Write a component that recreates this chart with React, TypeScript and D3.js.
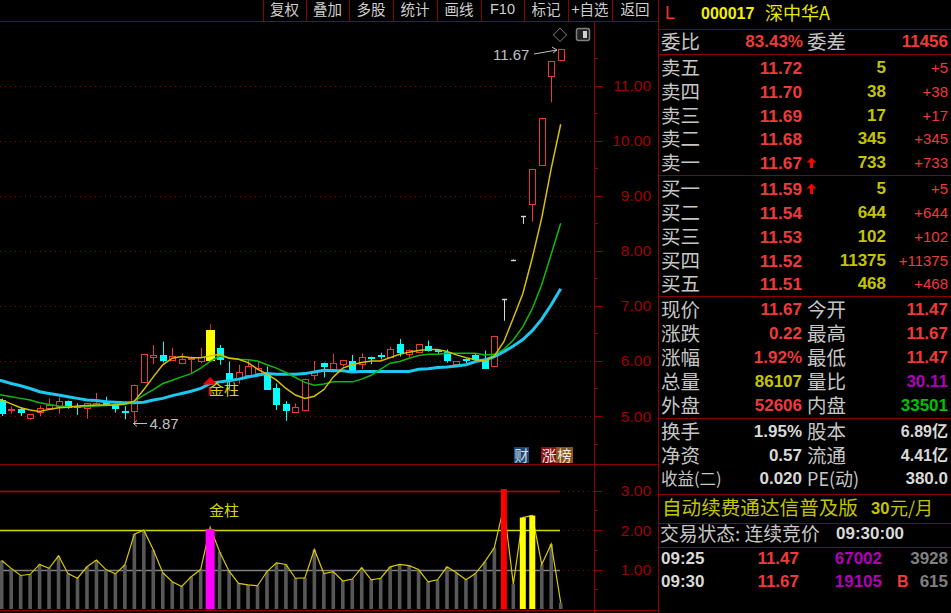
import React from "react";
import * as d3 from "d3";

const buttons = ["复权", "叠加", "多股", "统计", "画线", "F10", "标记", "+自选", "返回"];
const buttonEdges = [263, 306, 349, 393, 437, 481, 524, 568, 612, 658];

const opens = [5.29,5.10,5.13,4.97,5.07,5.15,5.19,5.28,5.18,5.15,5.20,5.23,5.20,5.09,5.09,5.61,6.08,6.11,6.02,5.96,6.03,6.00,6.02,6.23,5.79,5.68,5.74,5.79,5.79,5.50,5.22,5.08,5.11,5.74,5.97,5.85,5.94,6.00,5.94,6.07,6.10,6.07,6.31,6.13,6.17,6.28,6.19,6.17,5.94,6.04,6.10,6.02,5.91,7.12,7.84,8.63,8.85,9.56,11.18,11.47];
const closes = [5.06,5.12,5.07,5.03,5.15,5.20,5.28,5.17,5.17,5.23,5.24,5.21,5.14,5.08,5.57,6.12,6.11,6.02,6.09,6.03,6.05,6.08,6.56,6.03,5.68,5.80,5.90,5.87,5.49,5.22,5.11,5.17,5.68,5.80,5.90,5.97,6.02,5.83,6.08,6.06,6.09,6.21,6.17,6.19,6.30,6.20,6.18,6.02,6.00,6.03,6.03,5.88,6.46,7.12,7.84,8.63,9.49,10.41,11.45,11.67];
const highs = [5.32,5.17,5.16,5.03,5.19,5.32,5.34,5.28,5.23,5.23,5.42,5.35,5.23,5.18,5.57,6.12,6.29,6.35,6.24,6.14,6.08,6.24,6.67,6.29,5.99,5.93,6.02,5.99,5.90,5.59,5.27,5.23,5.68,6.00,5.97,6.13,6.02,6.11,6.14,6.08,6.15,6.26,6.40,6.21,6.30,6.37,6.20,6.21,6.00,6.05,6.14,6.19,6.46,7.12,7.84,8.63,9.49,10.41,11.45,11.67];
const lows = [5.00,5.04,5.00,4.93,5.00,5.14,5.04,5.13,5.02,4.95,5.18,5.18,5.06,4.94,4.87,5.61,5.94,5.97,6.02,5.96,5.77,5.96,6.02,5.93,5.50,5.59,5.74,5.79,5.49,5.11,4.91,5.08,5.11,5.65,5.70,5.79,5.90,5.80,5.85,5.94,6.03,6.05,6.08,6.06,6.17,6.17,6.13,5.97,5.94,5.96,6.00,5.87,5.91,6.73,7.84,8.49,8.53,9.56,10.70,11.47];

const ma5 = [5.29,5.22,5.15,5.11,5.08,5.12,5.15,5.16,5.18,5.19,5.20,5.20,5.20,5.22,5.27,5.48,5.71,5.93,6.05,6.08,6.06,6.06,6.09,6.12,6.05,6.03,5.97,5.85,5.76,5.65,5.50,5.38,5.32,5.36,5.48,5.71,5.87,5.93,5.97,6.00,6.00,6.06,6.12,6.16,6.19,6.21,6.21,6.17,6.11,6.06,6.02,6.00,6.09,6.35,6.78,7.22,7.87,8.60,9.50,10.30];
const ma10 = [5.38,5.35,5.32,5.29,5.24,5.21,5.18,5.17,5.17,5.17,5.18,5.19,5.21,5.21,5.27,5.38,5.48,5.59,5.65,5.71,5.77,5.87,5.99,6.09,6.06,6.03,6.02,6.00,5.93,5.87,5.79,5.70,5.61,5.56,5.58,5.62,5.62,5.62,5.67,5.74,5.85,5.96,5.99,6.05,6.10,6.12,6.12,6.14,6.14,6.14,6.14,6.11,6.12,6.21,6.38,6.62,6.95,7.39,7.94,8.50];
const ma20 = [5.64,5.59,5.55,5.50,5.44,5.41,5.38,5.35,5.32,5.29,5.28,5.26,5.25,5.24,5.24,5.25,5.29,5.32,5.37,5.41,5.45,5.50,5.59,5.62,5.64,5.67,5.71,5.74,5.77,5.76,5.76,5.76,5.77,5.80,5.83,5.82,5.82,5.80,5.81,5.81,5.81,5.81,5.81,5.81,5.85,5.86,5.88,5.89,5.91,5.93,5.99,6.02,6.08,6.17,6.27,6.39,6.55,6.76,7.02,7.31];
const maLead = { ma5: 5.33, ma10: 5.40, ma20: 5.66 };

const volumes = [1.23,1.03,0.85,0.88,1.13,1.03,1.35,0.90,0.78,1.07,1.24,1.00,0.89,1.12,1.90,2.00,1.50,0.92,0.69,0.57,0.82,1.00,2.03,1.45,0.96,0.65,0.61,0.59,0.95,1.17,1.13,0.78,0.79,1.51,0.90,0.95,0.71,0.76,1.05,0.74,0.78,1.07,1.13,1.10,1.00,0.69,0.74,1.07,0.92,0.74,0.90,1.20,1.56,3.04,0.63,2.32,2.37,1.13,1.65,0.16];
const volumeLine = [1.23,1.03,0.85,0.88,1.13,1.03,1.35,0.90,0.78,1.07,1.24,1.00,0.89,1.12,1.90,2.00,1.50,0.92,0.69,0.57,0.82,1.00,2.07,1.45,0.96,0.65,0.61,0.59,0.95,1.17,1.13,0.78,0.79,1.51,0.90,0.95,0.71,0.76,1.05,0.74,0.78,1.07,1.13,1.10,1.00,0.69,0.74,1.07,0.92,0.74,0.90,1.20,1.56,2.60,0.63,2.32,2.37,1.13,1.65,0.16];
const volumeColors: Record<number, string> = { 22: "#ff00ff", 53: "#ff0000", 55: "#ffff00", 56: "#ffff00" };
const volumeWidths: Record<number, number> = { 22: 9, 53: 6, 55: 6, 56: 6 };

const priceTicks = [5, 6, 7, 8, 9, 10, 11];
const volumeTicks = [1, 2, 3];
const volumeRules = [
  { value: 3, color: "#c00000" },
  { value: 2, color: "#d8d800" },
  { value: 1, color: "#808080" },
];

const RED = "#f03a3a", OLIVE = "#c4c400", GREY = "#c6c6c6", PURPLE = "#b000b8", GREEN = "#00c000", WHITE = "#d8d8d8", FRAME = "#8c0000";
const CJK = "'Noto Sans CJK SC', sans-serif";
const NUM = "'Liberation Sans', Arial, sans-serif";

const askLabels = ["卖五", "卖四", "卖三", "卖二", "卖一"];
const askPrices = ["11.72", "11.70", "11.69", "11.68", "11.67"];
const askSizes = ["5", "38", "17", "345", "733"];
const askDiffs = ["+5", "+38", "+17", "+345", "+733"];
const bidLabels = ["买一", "买二", "买三", "买四", "买五"];
const bidPrices = ["11.59", "11.54", "11.53", "11.52", "11.51"];
const bidSizes = ["5", "644", "102", "11375", "468"];
const bidDiffs = ["+5", "+644", "+102", "+11375", "+468"];
const bookRowsY = [68, 92, 116, 139, 163, 189, 213, 237, 261, 284];

const statLeft = [
  ["现价", "11.67", RED], ["涨跌", "0.22", RED], ["涨幅", "1.92%", RED], ["总量", "86107", OLIVE], ["外盘", "52606", RED],
  ["换手", "1.95%", WHITE], ["净资", "0.57", WHITE], ["收益(二)", "0.020", WHITE],
];
const statRight = [
  ["今开", "11.47", RED], ["最高", "11.67", RED], ["最低", "11.47", RED], ["量比", "30.11", PURPLE], ["内盘", "33501", GREEN],
  ["股本", "6.89亿", WHITE], ["流通", "4.41亿", WHITE], ["PE(动)", "380.0", WHITE],
];
const statRowsY = [310, 334, 358, 382, 406, 432, 456, 479];
const panelRules = [29, 54, 175, 296, 418, 494, 523, 547];
const ticks2 = [
  { time: "09:25", price: "11.47", vol: "67002", side: "", count: "3928", y: 559 },
  { time: "09:30", price: "11.67", vol: "19105", side: "B", count: "615", y: 582 },
];

const xScale = d3.scaleLinear().domain([0, 59]).range([1.7, 560.7]);
const yPrice = d3.scaleLinear().domain([5, 11]).range([416, 85.7]);
const yVol = d3.scaleLinear().domain([0, 3]).range([609, 490.7]);
const px = (v: number) => Math.round(v) + 0.5;

const priceLine = d3.line<number>().x((_, i) => xScale(i - 1)).y((d) => yPrice(d));
const volLine = d3.line<number>().x((_, i) => xScale(i)).y((d) => yVol(d));

function T(p: any) {
  const { x, y, children, size = 17, fill = WHITE, anchor = "start", family = NUM, weight = "normal", ...rest } = p;
  const dy = family === CJK ? -1.5 : -0.5;
  return (
    <text x={x} y={y + dy} fontSize={size} fill={fill} textAnchor={anchor} fontFamily={family} fontWeight={weight} dominantBaseline="central" {...rest}>
      {children}
    </text>
  );
}

function Candle({ i }: { i: number }) {
  const o = opens[i], c = closes[i], h = highs[i], l = lows[i];
  const x = px(xScale(i));
  const top = px(yPrice(Math.max(o, c))), bot = px(yPrice(Math.min(o, c)));
  const flat = o === c;
  const up = c > o;
  const gold = i === 22;
  const col = gold ? "#ffff00" : flat ? "#d8d8d8" : up ? "#e83838" : "#00ffff";
  const w = gold ? 8 : 6;
  return (
    <g>
      <line x1={x} x2={x} y1={yPrice(h)} y2={top} stroke={gold ? "#d02020" : col} />
      <line x1={x} x2={x} y1={bot} y2={yPrice(l)} stroke={col} />
      {flat ? (
        <line x1={x - 2.5} x2={x + 2.5} y1={top} y2={top} stroke={col} strokeWidth={1.4} />
      ) : up && !gold ? (
        <rect x={x - 3} y={top} width={6} height={Math.max(bot - top, 1)} fill="#000" stroke={col} />
      ) : (
        <rect x={x - w / 2 - 0.5} y={top - 0.5} width={w + 1} height={Math.max(bot - top, 1) + 1} fill={col} />
      )}
    </g>
  );
}

export default function App() {
  const idx = d3.range(60);
  return (
    <svg width={951} height={613} style={{ position: "fixed", left: 0, top: 0, background: "#000", display: "block" }}>
      <rect width={951} height={613} fill="#000" />
      {buttons.map((b, i) => (
        <g key={b}>
          <line x1={buttonEdges[i] + 0.5} x2={buttonEdges[i] + 0.5} y1={0} y2={22} stroke={FRAME} />
          <T x={(buttonEdges[i] + buttonEdges[i + 1]) / 2} y={9.5} size={14.5} anchor="middle" family={b === "F10" ? NUM : CJK} fill="#cfcfcf">{b}</T>
        </g>
      ))}
      <line x1={0} x2={658} y1={21.5} y2={21.5} stroke={FRAME} />
      <line x1={0} x2={658} y1={464.5} y2={464.5} stroke={FRAME} />
      <line x1={0} x2={658} y1={610.5} y2={610.5} stroke={FRAME} />
      <line x1={594.5} x2={594.5} y1={22} y2={613} stroke={FRAME} />
      <line x1={658.5} x2={658.5} y1={0} y2={613} stroke={FRAME} />

      {priceTicks.map((t) => (
        <g key={t}>
          <line x1={0} x2={594} y1={px(yPrice(t))} y2={px(yPrice(t))} stroke="#900000" strokeDasharray="1 4" />
          <line x1={594} x2={602} y1={px(yPrice(t))} y2={px(yPrice(t))} stroke={FRAME} />
          <line x1={594} x2={598} y1={px(yPrice(t + 0.5))} y2={px(yPrice(t + 0.5))} stroke={FRAME} />
          <T x={651} y={yPrice(t) + 0.5} size={15.5} anchor="end" fill="#a00000">{t.toFixed(2)}</T>
        </g>
      ))}
      <line x1={594} x2={598} y1={px(yPrice(4.5))} y2={px(yPrice(4.5))} stroke={FRAME} />

      {idx.map((i) => <Candle key={i} i={i} />)}
      <path d={priceLine([maLead.ma20, ...ma20]) ?? ""} fill="none" stroke="#1cc8f0" strokeWidth={3} />
      <path d={priceLine([maLead.ma10, ...ma10]) ?? ""} fill="none" stroke="#10b810" strokeWidth={1.5} />
      <path d={priceLine([maLead.ma5, ...ma5]) ?? ""} fill="none" stroke="#d8c000" strokeWidth={1.5} />

      <rect x={xScale(22) - 1.5} y={yPrice(5.52)} width={3} height={8} fill="#c02020" />
      <path d={`M${xScale(22) - 7.5},${yPrice(5.57)} L${xScale(22)},${yPrice(5.71)} L${xScale(22) + 7.5},${yPrice(5.57)} Z`} fill="#f00000" />
      <T x={209} y={390} size={15} fill="#d8d800" family={CJK}>金柱</T>
      <T x={149.5} y={424} size={15} fill="#c0c0c0">4.87</T>
      <path d={`M147,423.5H133.5M137,420.5L133.5,423.5L137,426.5`} fill="none" stroke="#c0c0c0" />
      <T x={493} y={55} size={15} fill="#c0c0c0">11.67</T>
      <path d={`M534,54L557,50M552,47L557,50L553,53`} fill="none" stroke="#c0c0c0" />
      <path d="M560,28L566.5,35L560,41.5L553.500,35Z" fill="none" stroke="#808080" />
      <rect x={576.5} y={28.5} width={13} height={12} rx={2} fill="#222" stroke="#808080" strokeWidth={1.5} />
      <rect x={583} y={31} width={4} height={7} fill="#d0d0d0" />

      <rect x={514} y={447} width={15} height={16} fill="#174a80" />
      <T x={521.5} y={455.5} size={14.500} anchor="middle" family={CJK} fill="#d8d8d8">财</T>
      <rect x={541} y={447} width={16} height={16} fill="#8c1010" />
      <rect x={556} y={447} width={17} height={16} fill="#8c5414" />
      <T x={549} y={455.5} size={14.500} anchor="middle" family={CJK} fill="#e8e8e8">涨</T>
      <T x={564.5} y={455.5} size={14.500} anchor="middle" family={CJK} fill="#e8e8e8">榜</T>

      {volumeRules.map((r) => (
        <g key={r.value}>
          <line x1={0} x2={560} y1={px(yVol(r.value))} y2={px(yVol(r.value))} stroke={r.color} strokeWidth={1.5} />
          <line x1={563} x2={594} y1={px(yVol(r.value))} y2={px(yVol(r.value))} stroke="#900000" strokeDasharray="1 4" />
        </g>
      ))}
      {volumeTicks.map((t) => (
        <g key={t}>
          <line x1={594} x2={602} y1={px(yVol(t))} y2={px(yVol(t))} stroke={FRAME} />
          <line x1={594} x2={598} y1={px(yVol(t - 0.5))} y2={px(yVol(t - 0.5))} stroke={FRAME} />
          <T x={651} y={yVol(t) + 0.5} size={15.5} anchor="end" fill="#a00000">{t.toFixed(2)}</T>
        </g>
      ))}
      <line x1={594} x2={598} y1={px(yVol(2.5))} y2={px(yVol(2.5))} stroke={FRAME} />
      {idx.filter((i) => !volumeColors[i]).map((i) => (
        <rect key={i} x={xScale(i) - 1.8} y={yVol(volumes[i])} width={3.6} height={yVol(0) - yVol(volumes[i])} fill="#585858" />
      ))}
      <path d={volLine(volumeLine) ?? ""} fill="none" stroke="#d8c800" strokeWidth={1.2} />
      {idx.filter((i) => volumeColors[i]).map((i) => (
        <rect key={i} x={xScale(i) - volumeWidths[i] / 2} y={yVol(volumes[i])} width={volumeWidths[i]} height={yVol(0) - yVol(volumes[i])} fill={volumeColors[i]} />
      ))}
      <T x={209} y={511} size={15} fill="#d8d800" family={CJK}>金柱</T>

      {panelRules.map((y) => <line key={y} x1={659} x2={951} y1={y + 0.5} y2={y + 0.5} stroke={FRAME} />)}
      <T x={665} y={13} size={18} fill="#f03030">L</T>
      <T x={701} y={13.500} size={16} weight="bold" fill="#f0f000">000017</T>
      <T x={765} y={13.500} size={18} family={CJK} fill="#e8e800">深中华A</T>

      <T x={661} y={42} size={19.500} family={CJK} fill={GREY}>委比</T>
      <T x={803} y={42} size={17} weight="bold" anchor="end" fill={RED}>83.43%</T>
      <T x={807} y={42} size={19.500} family={CJK} fill={GREY}>委差</T>
      <T x={948} y={42} size={17} weight="bold" anchor="end" fill={RED}>11456</T>

      {[...askLabels, ...bidLabels].map((l, i) => {
        const y = bookRowsY[i];
        return (
          <g key={l}>
            <T x={661} y={y} size={19.500} family={CJK} fill={GREY}>{l}</T>
            <T x={802} y={y} size={17.3} weight="bold" anchor="end" fill={RED}>{[...askPrices, ...bidPrices][i]}</T>
            <T x={886} y={y} size={17} weight="bold" anchor="end" fill={OLIVE}>{[...askSizes, ...bidSizes][i]}</T>
            <T x={948} y={y} size={15} anchor="end" fill={RED}>{[...askDiffs, ...bidDiffs][i]}</T>
          </g>
        );
      })}
      {[4, 5].map((i) => (
        <path key={i} d={`M811.500,${bookRowsY[i] - 5.500}L816.500,${bookRowsY[i] - 0.500}H813V${bookRowsY[i] + 5}H810V${bookRowsY[i] - 0.500}H806.500Z`} fill="#ff0000" />
      ))}

      {statLeft.map((s, i) => (
        <g key={s[0]}>
          <T x={661} y={statRowsY[i]} size={i === 7 ? 16.500 : 19.500} family={CJK} fill={GREY}>{s[0]}</T>
          <T x={802} y={statRowsY[i]} size={17} weight="bold" anchor="end" fill={s[2]}>{s[1]}</T>
        </g>
      ))}
      {statRight.map((s, i) => (
        <g key={s[0]}>
          <T x={807} y={statRowsY[i]} size={i === 7 ? 18 : 19.500} family={CJK} fill={GREY}>{s[0]}</T>
          <T x={948} y={statRowsY[i]} size={i >= 5 && i < 7 ? 16 : 17} weight="bold" anchor="end" fill={s[2]} family={NUM + ",'Noto Sans CJK SC'"}>{s[1]}</T>
        </g>
      ))}
      <T x={662} y={508} size={19.600} family={CJK} fill={OLIVE}>自动续费通达信普及版</T>
      <T x={871} y={508} size={16.500} weight="bold" fill={OLIVE}>30</T>
      <T x={890} y={508} size={18} family={CJK} fill={OLIVE}>元/月</T>
      <T x={660} y={534} size={18.800} family={CJK} fill={GREY}>交易状态: 连续竞价</T>
      <T x={836} y={534} size={17} weight="bold" fill={WHITE}>09:30:00</T>
      {ticks2.map((t) => (
        <g key={t.time}>
          <T x={661} y={t.y} size={17} weight="bold" fill={WHITE}>{t.time}</T>
          <T x={799} y={t.y} size={17} weight="bold" anchor="end" fill={RED}>{t.price}</T>
          <T x={882} y={t.y} size={17} weight="bold" anchor="end" fill={PURPLE}>{t.vol}</T>
          <T x={897} y={t.y} size={16} weight="bold" fill={RED}>{t.side}</T>
          <T x={948} y={t.y} size={17} weight="bold" anchor="end" fill="#808080">{t.count}</T>
        </g>
      ))}
    </svg>
  );
}
